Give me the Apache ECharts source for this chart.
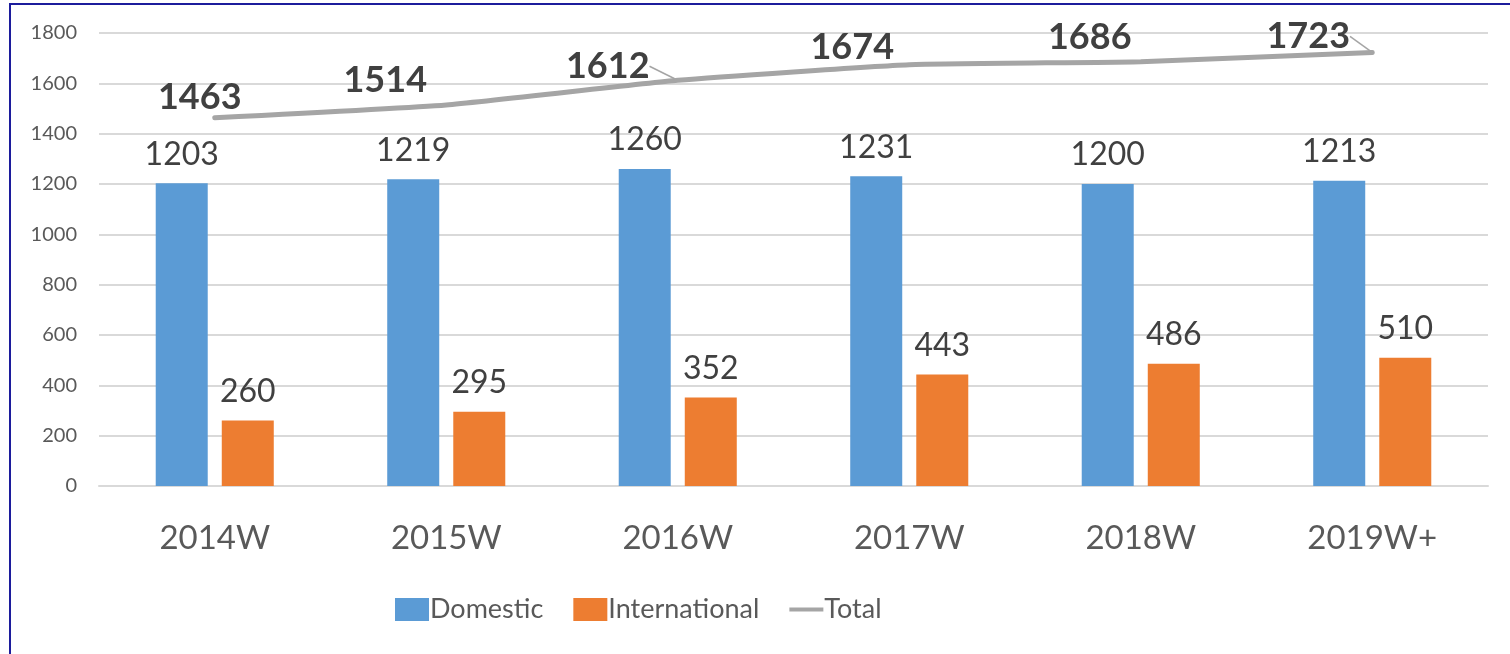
<!DOCTYPE html>
<html>
<head>
<meta charset="utf-8">
<script src="https://cdn.jsdelivr.net/npm/echarts@6/dist/echarts.min.js"></script>
<style>
html,body{margin:0;padding:0;background:#fff;overflow:hidden;}
#frame{position:absolute;left:9px;top:3px;width:1600px;height:800px;border:2px solid #1c1c9c;box-sizing:border-box;}
#chart{position:absolute;left:0;top:0;width:1510px;height:654px;}
</style>
</head>
<body>
<div id="frame"></div>
<div id="chart"></div>
<script>
const categories = ['2014W','2015W','2016W','2017W','2018W','2019W+'];
const domestic = [1203, 1219, 1260, 1231, 1200, 1213];
const international = [260, 295, 352, 443, 486, 510];
const total = [1463, 1514, 1612, 1674, 1686, 1723];
const yTicks = {min: 0, max: 1800, interval: 200};

const totalLabelShift = [[-15, 3], [-61, -2], [-70, 9], [-57, 6], [-51, -1], [-64, 7]];
const guideLineIdx = [2, 5];

const FONT = 'Lato, "Noto Sans", sans-serif';
const chart = echarts.init(document.getElementById('chart'));
chart.setOption({
  animation: false,
  textStyle: {fontFamily: FONT},
  grid: {left: 99, right: 22, top: 33, bottom: 168},
  legend: {
    left: 390, top: 591,
    itemWidth: 34, itemHeight: 23, itemGap: 30,
    textStyle: {fontSize: 27, color: '#595959', fontFamily: FONT, padding: [0, 0, 0, -4]},
    data: [
      {name: 'Domestic', icon: 'rect'},
      {name: 'International', icon: 'rect'},
      {name: 'Total', icon: 'path://M0,0 L0,0 M0,9.5 L34,9.5 L34,13.5 L0,13.5 Z M34,23 L34,23'}
    ]
  },
  xAxis: {
    type: 'category', data: categories,
    axisLine: {lineStyle: {color: '#D9D9D9', width: 2}},
    axisTick: {show: false},
    axisLabel: {fontSize: 33, color: '#595959', margin: 36}
  },
  yAxis: {
    type: 'value', min: yTicks.min, max: yTicks.max, interval: yTicks.interval,
    axisLine: {show: false}, axisTick: {show: false},
    splitLine: {lineStyle: {color: '#D9D9D9', width: 2}},
    axisLabel: {fontSize: 20, color: '#595959', margin: 22, formatter: v => String(v)}
  },
  series: [
    {
      name: 'Domestic', type: 'bar', data: domestic,
      barWidth: 52, barGap: '27%',
      itemStyle: {color: '#5B9BD5'},
      label: {show: true, position: 'top', fontSize: 32, color: '#404040', distance: 13}
    },
    {
      name: 'International', type: 'bar', data: international,
      barWidth: 52,
      itemStyle: {color: '#ED7D31'},
      label: {show: true, position: 'top', fontSize: 32, color: '#404040', distance: 13}
    },
    {
      name: 'Total', type: 'line',
      data: total.map((v, i) => guideLineIdx.includes(i) ? {value: v, labelLine: {show: true}} : v),
      smooth: 0.15, symbol: 'circle', symbolSize: 0.1, showSymbol: true, z: 5,
      lineStyle: {color: '#A5A5A5', width: 5, cap: 'round'},
      itemStyle: {color: '#A5A5A5'},
      label: {show: true, position: 'top', fontSize: 36, fontWeight: 'bold', color: '#404040'},
      labelLine: {show: false, lineStyle: {color: '#A5A5A5', width: 1.5}},
      labelLayout: function (p) {
        const s = totalLabelShift[p.dataIndex];
        return {dx: s[0], dy: s[1]};
      }
    }
  ]
});
</script>
</body>
</html>
